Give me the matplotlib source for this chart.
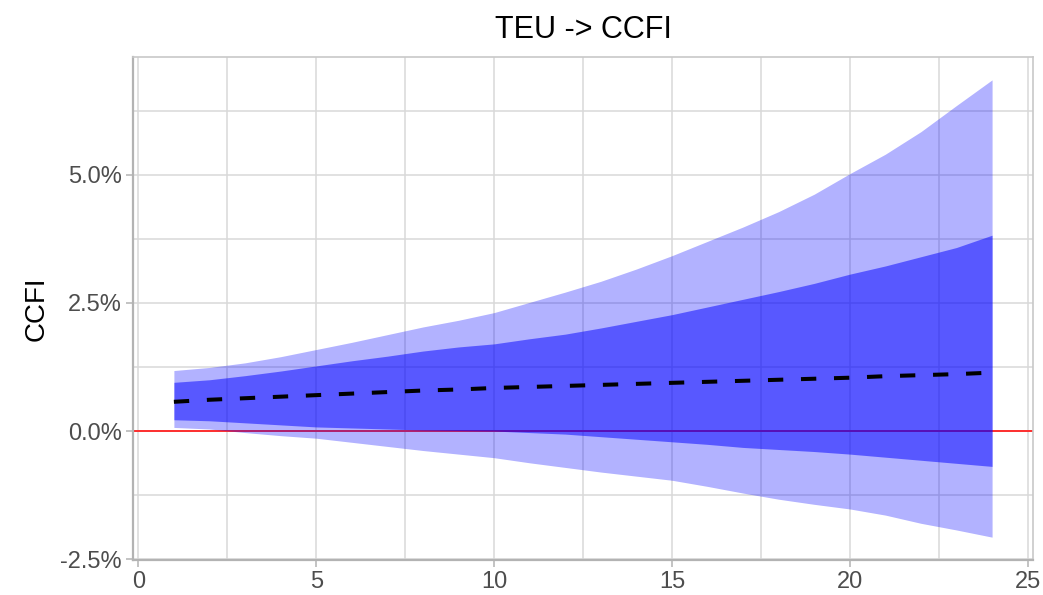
import matplotlib.pyplot as plt
from matplotlib.ticker import FixedLocator, FuncFormatter, MultipleLocator

plt.rcParams["font.family"] = ["Liberation Sans", "DejaVu Sans"]
plt.rcParams["axes.unicode_minus"] = False

# impulse response of CCFI to a TEU shock, in percent
horizon = list(range(1, 25))
irf_mean = [0.57, 0.61, 0.64, 0.67, 0.70, 0.73, 0.76, 0.79, 0.81, 0.84, 0.86, 0.88,
            0.90, 0.92, 0.94, 0.96, 0.98, 1.00, 1.02, 1.04, 1.07, 1.09, 1.11, 1.14]
outer_upper = [1.18, 1.24, 1.33, 1.45, 1.59, 1.73, 1.88, 2.03, 2.16, 2.31, 2.51, 2.71,
               2.92, 3.16, 3.42, 3.70, 3.98, 4.28, 4.62, 5.02, 5.40, 5.84, 6.35, 6.85]
outer_lower = [0.07, 0.04, -0.03, -0.09, -0.14, -0.22, -0.30, -0.38, -0.45, -0.52, -0.62, -0.71,
               -0.80, -0.88, -0.96, -1.08, -1.21, -1.33, -1.43, -1.52, -1.64, -1.80, -1.93, -2.07]
inner_upper = [0.95, 1.00, 1.08, 1.17, 1.27, 1.37, 1.46, 1.56, 1.64, 1.70, 1.80, 1.89,
               2.01, 2.14, 2.27, 2.42, 2.57, 2.72, 2.88, 3.06, 3.22, 3.40, 3.58, 3.82]
inner_lower = [0.22, 0.20, 0.16, 0.12, 0.08, 0.06, 0.04, 0.02, 0.01, 0.00, -0.03, -0.06,
               -0.11, -0.16, -0.21, -0.26, -0.32, -0.36, -0.40, -0.45, -0.51, -0.57, -0.63, -0.69]

x_ticks = [0, 5, 10, 15, 20, 25]
y_ticks = [-2.5, 0.0, 2.5, 5.0]

fig = plt.figure(figsize=(10.43, 5.95), dpi=100)
ax = fig.add_axes([0.1275, 0.0588, 0.8629, 0.8454])

ax.axhline(0, color="#ff2020", linewidth=1.3, zorder=2)
ax.fill_between(horizon, outer_lower, outer_upper, color="blue", alpha=0.3,
                linewidth=0, zorder=3)
ax.fill_between(horizon, inner_lower, inner_upper, color="blue", alpha=0.5,
                linewidth=0, zorder=4)
ax.plot(horizon, irf_mean, color="black", linewidth=2.9, dashes=(3.8, 4.4),
        dash_capstyle="butt", zorder=5)

span_x = horizon[-1] - horizon[0]
ax.set_xlim(horizon[0] - 0.05 * span_x, horizon[-1] + 0.05 * span_x)
lo, hi = min(outer_lower), max(outer_upper)
ax.set_ylim(lo - 0.05 * (hi - lo), hi + 0.05 * (hi - lo))

ax.xaxis.set_major_locator(FixedLocator(x_ticks))
ax.yaxis.set_major_locator(FixedLocator(y_ticks))
ax.xaxis.set_minor_locator(MultipleLocator(2.5))
ax.yaxis.set_minor_locator(MultipleLocator(1.25))
ax.yaxis.set_major_formatter(FuncFormatter(lambda v, _: f"{v:.1f}%"))

ax.grid(which="both", color="#d9d9d9", linewidth=1.1, zorder=0)
ax.set_axisbelow(True)
ax.tick_params(which="major", direction="out", length=5, width=1.1, color="#b3b3b3",
               labelsize=17, labelcolor="#4d4d4d", pad=3)
ax.tick_params(which="minor", length=0)
for side in ("top", "right"):
    ax.spines[side].set_color("#c8c8c8")
    ax.spines[side].set_linewidth(1.2)
for side in ("left", "bottom"):
    ax.spines[side].set_color("#b3b3b3")
    ax.spines[side].set_linewidth(1.6)

ax.set_ylabel("CCFI", fontsize=20, labelpad=8)
ax.set_title("TEU -> CCFI", fontsize=22, pad=14)

fig.savefig("out.png", dpi=100)
